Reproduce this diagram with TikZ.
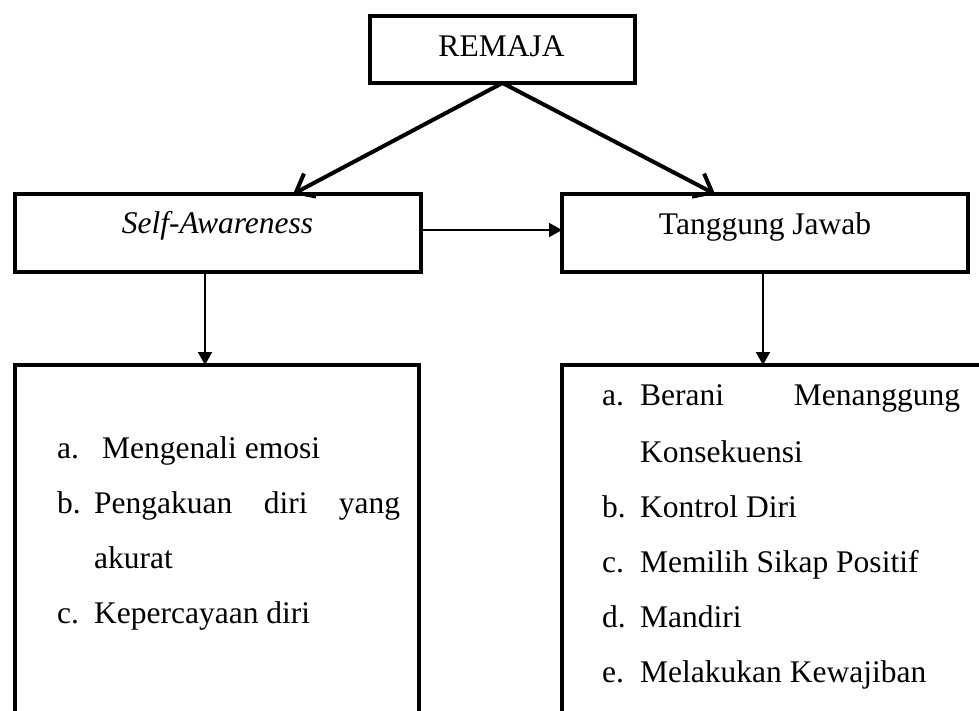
\documentclass[tikz,border=0pt]{standalone}
\usepackage{fontspec}
\setmainfont{Liberation Serif}
\usetikzlibrary{arrows.meta,calc}
\begin{document}
\begin{tikzpicture}[x=1pt,y=-1pt,
 box/.style={draw,line width=4pt,inner sep=0pt,outer sep=0pt,rectangle,anchor=north west},
 txt/.style={inner sep=0pt,anchor=base west,font=\fontsize{31.5}{38}\selectfont},
 ctxt/.style={inner sep=0pt,anchor=base,font=\fontsize{31.5}{38}\selectfont},
 thickarr/.style={line width=4pt,-{Straight Barb[length=16pt,width=26pt]}},
 thinarr/.style={line width=2pt,-{Triangle[length=13pt,width=14pt]}}]
\useasboundingbox (0,0) rectangle (979,711);
\clip (0,0) rectangle (979,711);
% boxes
\node[box,minimum width=265pt,minimum height=67pt] (rem) at (370,16) {};
\node[box,minimum width=406pt,minimum height=78pt] (SA) at (15,194) {};
\node[box,minimum width=406pt,minimum height=78pt] (TJ) at (562,194) {};
\node[box,minimum width=404pt,minimum height=400pt] (LB) at (15,365) {};
\node[box,minimum width=450pt,minimum height=400pt] (RB) at (562,365) {};
% titles
\node[ctxt] (remt) at (501.5,57) {REMAJA};
\node[ctxt] (sat) at (217.5,234) {\itshape Self-Awareness};
\node[ctxt] (tjt) at (765,235) {Tanggung Jawab};
% connectors
\draw[thickarr] (rem.south) -- ($(SA.north west)!0.685!(SA.north east)$);
\draw[thickarr] (rem.south) -- ($(TJ.north west)!0.377!(TJ.north east)$);
\draw[thinarr] ([yshift=3pt]SA.east) -- ([yshift=3pt]TJ.west);
\coordinate (pl) at ($(SA.south west)!0.468!(SA.south east)$);
\coordinate (pr) at ($(TJ.south west)!0.495!(TJ.south east)$);
\draw[thinarr] (pl) -- (pl |- LB.north);
\draw[thinarr] (pr) -- (pr |- RB.north);
% left list
\node[txt] (la) at (57,458) {a.};
\node[txt] (lat) at (102,458) {Mengenali emosi};
\node[txt] (lb) at (57,513) {b.};
\node[txt] (lbt) at (94,513) {\hbox to 306pt{Pengakuan\hfill diri\hfill yang}};
\node[txt] (lbt2) at (94,568) {akurat};
\node[txt] (lc) at (57,623) {c.};
\node[txt] (lct) at (94,623) {Kepercayaan diri};
% right list
\node[txt] (ra) at (602,405) {a.};
\node[txt] (rat) at (640,405) {\hbox to 320pt{Berani\hfill Menanggung}};
\node[txt] (rat2) at (640,462) {Konsekuensi};
\node[txt] (rb) at (602,517) {b.};
\node[txt] (rbt) at (640,517) {Kontrol Diri};
\node[txt] (rc) at (602,572) {c.};
\node[txt] (rct) at (640,572) {Memilih Sikap Positif};
\node[txt] (rd) at (602,627) {d.};
\node[txt] (rdt) at (640,627) {Mandiri};
\node[txt] (re) at (602,682) {e.};
\node[txt] (ret) at (640,682) {Melakukan Kewajiban};
\end{tikzpicture}
\end{document}
